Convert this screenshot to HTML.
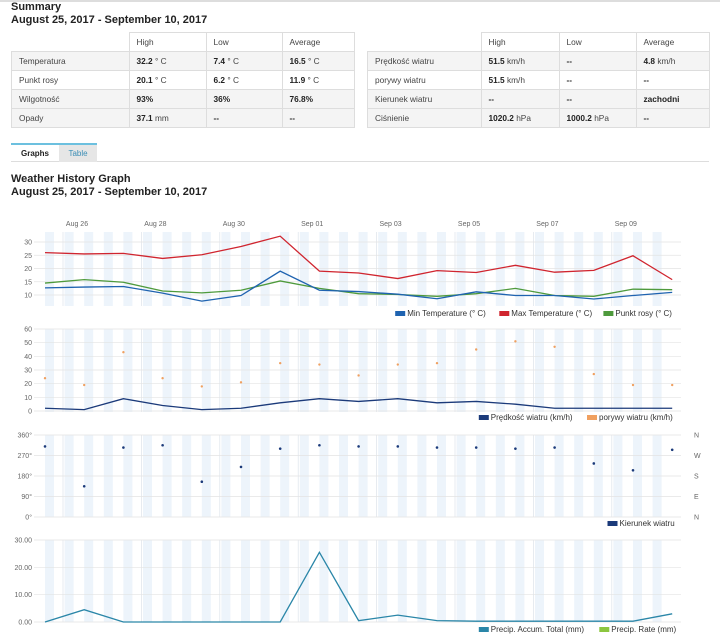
<!DOCTYPE html>
<html><head><meta charset="utf-8"><style>
body{margin:0;width:720px;height:641px;overflow:hidden;background:#fff;font-family:"Liberation Sans",sans-serif;color:#222}
.topline{position:absolute;left:0;top:0;width:720px;height:2px;background:#ddd}
h1{position:absolute;margin:0;font-size:11px;font-weight:bold;left:11px}
table{position:absolute;border-collapse:collapse;font-size:8.3px;color:#444}
td{height:18px;border:1px solid #ddd;padding:0 0 0 7px}
tr.g td{background:#f4f4f4}
td.e{border:none;background:#fff !important}
b{color:#222}
.tabs{position:absolute;top:143px;left:11px;width:698px;height:18px;border-bottom:1px solid #ddd}
.tab{position:absolute;top:0;height:17px;font-size:8px;line-height:18px;text-align:center;border-top:2px solid #6cc0df}
svg{position:absolute;left:0;top:0}
</style></head><body>
<div class="topline"></div>
<h1 style="top:1px">Summary</h1>
<h1 style="top:14px">August 25, 2017 - September 10, 2017</h1>
<table style="left:11px;top:32px;width:344px">
<tr><td class="e" style="width:110px"></td><td style="width:69px">High</td><td style="width:68px">Low</td><td>Average</td></tr>
<tr class="g"><td>Temperatura</td><td><b>32.2</b> ° C</td><td><b>7.4</b> ° C</td><td><b>16.5</b> ° C</td></tr>
<tr><td>Punkt rosy</td><td><b>20.1</b> ° C</td><td><b>6.2</b> ° C</td><td><b>11.9</b> ° C</td></tr>
<tr class="g"><td>Wilgotność</td><td><b>93%</b></td><td><b>36%</b></td><td><b>76.8%</b></td></tr>
<tr class="g"><td>Opady</td><td><b>37.1</b> mm</td><td><b>--</b></td><td><b>--</b></td></tr>
</table>
<table style="left:367px;top:32px;width:343px">
<tr><td class="e" style="width:106px"></td><td style="width:70px">High</td><td style="width:69px">Low</td><td>Average</td></tr>
<tr class="g"><td>Prędkość wiatru</td><td><b>51.5</b> km/h</td><td><b>--</b></td><td><b>4.8</b> km/h</td></tr>
<tr><td>porywy wiatru</td><td><b>51.5</b> km/h</td><td><b>--</b></td><td><b>--</b></td></tr>
<tr class="g"><td>Kierunek wiatru</td><td><b>--</b></td><td><b>--</b></td><td><b>zachodni</b></td></tr>
<tr class="g"><td>Ciśnienie</td><td><b>1020.2</b> hPa</td><td><b>1000.2</b> hPa</td><td><b>--</b></td></tr>
</table>
<div class="tabs"><div class="tab" style="left:0;width:48px;font-weight:bold">Graphs</div><div class="tab" style="left:48px;width:38px;background:#e6e6e6;color:#3a8db5">Table</div></div>
<h1 style="top:173px">Weather History Graph</h1>
<h1 style="top:186px">August 25, 2017 - September 10, 2017</h1>
<svg id="s" width="720" height="641" font-family="Liberation Sans, sans-serif" font-size="7" fill="#666"></svg>
<script>
var s=document.getElementById('s'),h='';
var X0=45,DX=39.2,L=34,R=681;
function x(i){return X0+i*DX}
var panels=[[232,306],[329,412],[435,517],[540,622]];
panels.forEach(function(p){
 for(var k=0;k<34;k++){var sx=45+k*19.6;if(sx+9>R)break;h+='<rect x="'+sx+'" y="'+p[0]+'" width="9" height="'+(p[1]-p[0])+'" fill="#edf4fb"/>';}
 for(var k=0;k<9;k++){var gx=63+k*78.4;if(gx>R)break;h+='<line x1="'+gx+'" x2="'+gx+'" y1="'+p[0]+'" y2="'+p[1]+'" stroke="#dde3ea" stroke-width="0.7"/>';}
});
function grid(vals,y0,sc,fmt,p){vals.forEach(function(v){var y=y0-v*sc;h+='<line x1="'+L+'" x2="'+R+'" y1="'+y+'" y2="'+y+'" stroke="#e3e3e3" stroke-width="0.7"/><text x="32" y="'+(y+2.5)+'" text-anchor="end">'+(fmt?fmt(v):v)+'</text>';});}
var ts=2.65,t0=295+10*ts;
grid([10,15,20,25,30],t0,ts);
grid([0,10,20,30,40,50,60],411,82/60);
var ds=82/360;
[0,90,180,270,360].forEach(function(v,i){var y=517-v*ds;h+='<line x1="'+L+'" x2="'+R+'" y1="'+y+'" y2="'+y+'" stroke="#e3e3e3" stroke-width="0.7"/><text x="32" y="'+(y+2.5)+'" text-anchor="end">'+v+'°</text><text x="694" y="'+(y+2.5)+'">'+['N','E','S','W','N'][i]+'</text>';});
[0,10,20,30].forEach(function(v){var y=622-v*82/30;h+='<line x1="'+L+'" x2="'+R+'" y1="'+y+'" y2="'+y+'" stroke="#e3e3e3" stroke-width="0.7"/><text x="32" y="'+(y+2.5)+'" text-anchor="end">'+v.toFixed(2)+'</text>';});
['Aug 26','Aug 28','Aug 30','Sep 01','Sep 03','Sep 05','Sep 07','Sep 09'].forEach(function(t,i){h+='<text x="'+(77+i*78.4)+'" y="226" text-anchor="middle">'+t+'</text>';});
function line(d,y0,sc,c,w){h+='<polyline fill="none" stroke="'+c+'" stroke-width="'+(w||1.3)+'" points="'+d.map(function(v,i){return x(i)+','+(y0-v*sc)}).join(' ')+'"/>';}
line([26,25.5,25.7,23.8,25.2,28.3,32.2,19,18.3,16.2,19.2,18.5,21.2,18.6,19.3,24.8,15.8],t0,ts,'#d0252f');
line([14.5,15.8,14.8,11.5,10.8,11.8,15.3,12.5,10.5,10.2,9.5,10.5,12.5,9.8,9.5,12.2,12],t0,ts,'#4e9a3c');
line([12.7,13,13.2,10.7,7.7,9.8,19,11.8,11.3,10.3,8.6,11.2,9.8,9.8,8.5,9.8,11],t0,ts,'#1f63b0');
line([2,1,9,4,1,2,6,9,7,9,6,7,5,2,2,2,2],411,82/60,'#1b3a7a');
[24,19,43,24,18,21,35,34,26,34,35,45,51,47,27,19,19].forEach(function(v,i){h+='<circle cx="'+x(i)+'" cy="'+(411-v*82/60)+'" r="1.2" fill="#f0a060"/>';});
[310,135,305,315,155,220,300,315,310,310,305,305,300,305,235,205,295].forEach(function(v,i){h+='<circle cx="'+x(i)+'" cy="'+(517-v*ds)+'" r="1.3" fill="#1b3a7a"/>';});
line([0,4.5,0,0,0,0,0,25.5,0.5,2.5,0.5,0.3,0.3,0.3,0.3,0.3,3],622,82/30,'#2a86a8');
function leg(items,y){var xx=R;items.slice().reverse().forEach(function(it){var w=it[0].length*4.1;xx-=w;h+='<text x="'+xx+'" y="'+(y+3)+'" fill="#333" font-size="8">'+it[0]+'</text><rect x="'+(xx-12)+'" y="'+(y-2)+'" width="10" height="5" fill="'+it[1]+'"/>';xx-=18;});}
leg([['Min Temperature (° C)','#1f63b0'],['Max Temperature (° C)','#d0252f'],['Punkt rosy (° C)','#4e9a3c']],313);
leg([['Prędkość wiatru (km/h)','#1b3a7a'],['porywy wiatru (km/h)','#f0a060']],417);
leg([['Kierunek wiatru','#1b3a7a']],523);
leg([['Precip. Accum. Total (mm)','#2a86a8'],['Precip. Rate (mm)','#8cc63f']],629);
s.innerHTML=h;
</script>
</body></html>
